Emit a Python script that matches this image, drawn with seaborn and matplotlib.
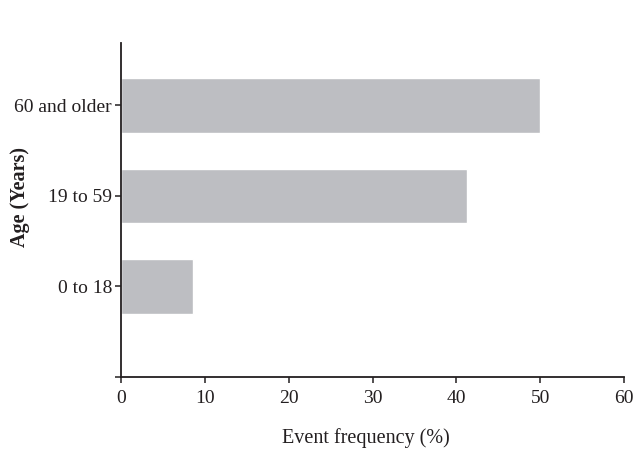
import matplotlib
matplotlib.use("Agg")
import matplotlib.pyplot as plt
import pandas as pd
import seaborn as sns

# values
age_groups = ["60 and older", "19 to 59", "0 to 18"]
event_freq = [50.0, 41.3, 8.6]
x_ticks = [0, 10, 20, 30, 40, 50, 60]

sns.set_style("ticks")
plt.rcParams["font.family"] = ["Liberation Serif", "DejaVu Serif"]

ink = "#231f20"
df = pd.DataFrame({"age": age_groups, "freq": event_freq})

fig = plt.figure(figsize=(6.35, 4.55), dpi=100)
ax = fig.add_axes([121 / 635, 1 - 377 / 455, 503 / 635, 334 / 455])

sns.barplot(
    data=df,
    x="freq",
    y="age",
    order=age_groups,
    orient="h",
    color="#bdbec2",
    saturation=1,
    width=0.6,
    ax=ax,
)

ax.set_xlim(0, 60)
ax.set_xticks(x_ticks)
ax.set_xticklabels([str(t) for t in x_ticks])
ax.set_ylim(3, -0.69)
ax.set_yticks([0, 1, 2, 3])
ax.set_yticklabels(age_groups + [""])

for side in ["top", "right"]:
    ax.spines[side].set_visible(False)
for side in ["left", "bottom"]:
    ax.spines[side].set_color(ink)
    ax.spines[side].set_linewidth(1.3)

ax.tick_params(axis="both", colors=ink, width=1.1, length=4.5,
               labelsize=14, labelcolor=ink)
ax.tick_params(axis="y", pad=2)
ax.tick_params(axis="x", pad=5)

ax.set_xlabel("Event frequency (%)", fontsize=14.5, color=ink)
ax.set_ylabel("Age (Years)", fontsize=14.5, fontweight="bold", color=ink)
ax.xaxis.set_label_coords(0.487, -0.152)
ax.yaxis.set_label_coords(-0.18, 0.54)

fig.savefig("out.png", dpi=100)
